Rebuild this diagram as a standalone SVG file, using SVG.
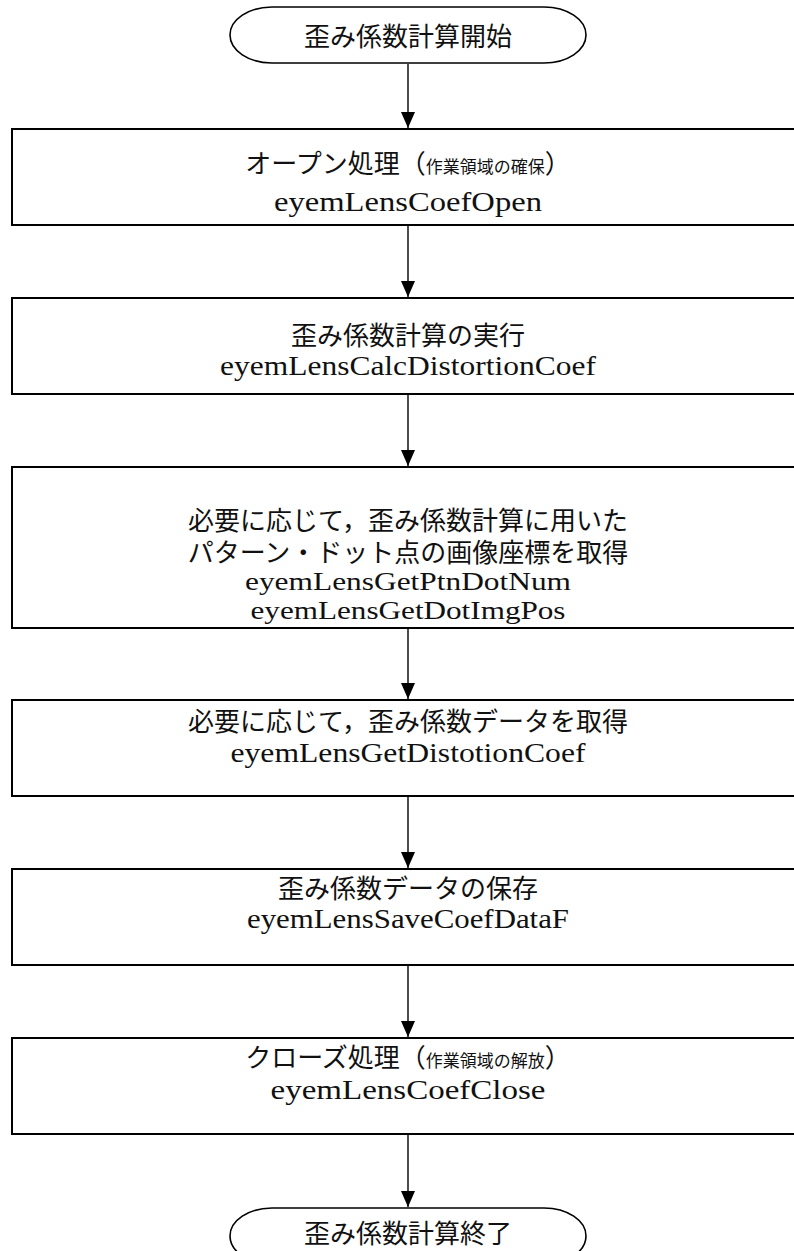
<svg xmlns="http://www.w3.org/2000/svg" width="794" height="1251" viewBox="0 0 794 1251">
<style>
.box{fill:#fff;stroke:#000;stroke-width:2}
.term{fill:#fff;stroke:#000;stroke-width:1.6}
.jp{font-family:"Liberation Serif","Noto Sans CJK JP",serif;font-size:26px;text-anchor:middle;fill:#111}
.sm{font-size:17px}
.en{font-family:"Liberation Serif",serif;font-size:27px;text-anchor:middle;fill:#111}
.en2{font-family:"Liberation Serif",serif;font-size:25px;text-anchor:middle;fill:#111}
.conn{stroke:#000;stroke-width:1.4;fill:none}
</style>
<defs>
<marker id="arr" markerUnits="userSpaceOnUse" markerWidth="16" markerHeight="14" refX="16" refY="7" orient="auto" viewBox="0 0 16 14">
<path d="M0,0 L16,7 L0,14 Z" fill="#000"/>
</marker>
</defs>
<g id="connectors">
<line class="conn" x1="408" y1="64" x2="408" y2="128" marker-end="url(#arr)"/>
<line class="conn" x1="408" y1="226" x2="408" y2="297" marker-end="url(#arr)"/>
<line class="conn" x1="408" y1="395" x2="408" y2="466" marker-end="url(#arr)"/>
<line class="conn" x1="408" y1="629" x2="408" y2="699" marker-end="url(#arr)"/>
<line class="conn" x1="408" y1="797" x2="408" y2="868" marker-end="url(#arr)"/>
<line class="conn" x1="408" y1="966" x2="408" y2="1037" marker-end="url(#arr)"/>
<line class="conn" x1="408" y1="1135" x2="408" y2="1207" marker-end="url(#arr)"/>
</g>
<g id="start">
<path class="term" d="M272,7 H544 A42,28 0 0 1 544,63 H272 A42,28 0 0 1 272,7 Z"/>
<text class="jp" x="408" y="46" font-size="27">歪み係数計算開始</text>
</g>
<g id="open">
<rect class="box" x="12" y="129" width="792" height="96"/>
<text class="jp" x="408" y="173">オープン処理（<tspan class="sm">作業領域の確保</tspan>）</text>
<text class="en" x="408" y="211" textLength="268" lengthAdjust="spacingAndGlyphs">eyemLensCoefOpen</text>
</g>
<g id="calc">
<rect class="box" x="12" y="298" width="792" height="96"/>
<text class="jp" x="408" y="345">歪み係数計算の実行</text>
<text class="en" x="408" y="375" textLength="376" lengthAdjust="spacingAndGlyphs">eyemLensCalcDistortionCoef</text>
</g>
<g id="getdot">
<rect class="box" x="12" y="467" width="792" height="161"/>
<text class="jp" x="408" y="530">必要に応じて，歪み係数計算に用いた</text>
<text class="jp" x="408" y="562">パターン・ドット点の画像座標を取得</text>
<text class="en2" x="408" y="590" textLength="326" lengthAdjust="spacingAndGlyphs">eyemLensGetPtnDotNum</text>
<text class="en2" x="408" y="619" textLength="315" lengthAdjust="spacingAndGlyphs">eyemLensGetDotImgPos</text>
</g>
<g id="getcoef">
<rect class="box" x="12" y="700" width="792" height="96"/>
<text class="jp" x="408" y="731">必要に応じて，歪み係数データを取得</text>
<text class="en" x="408" y="762" textLength="355" lengthAdjust="spacingAndGlyphs">eyemLensGetDistotionCoef</text>
</g>
<g id="save">
<rect class="box" x="12" y="869" width="792" height="96"/>
<text class="jp" x="408" y="898">歪み係数データの保存</text>
<text class="en" x="408" y="928" textLength="322" lengthAdjust="spacingAndGlyphs">eyemLensSaveCoefDataF</text>
</g>
<g id="close">
<rect class="box" x="12" y="1038" width="792" height="96"/>
<text class="jp" x="408" y="1067">クローズ処理（<tspan class="sm">作業領域の解放</tspan>）</text>
<text class="en" x="408" y="1099" textLength="275" lengthAdjust="spacingAndGlyphs">eyemLensCoefClose</text>
</g>
<g id="end">
<path class="term" d="M272,1208 H544 A42,28 0 0 1 544,1264 H272 A42,28 0 0 1 272,1208 Z"/>
<text class="jp" x="408" y="1243" font-size="27">歪み係数計算終了</text>
</g>
</svg>
